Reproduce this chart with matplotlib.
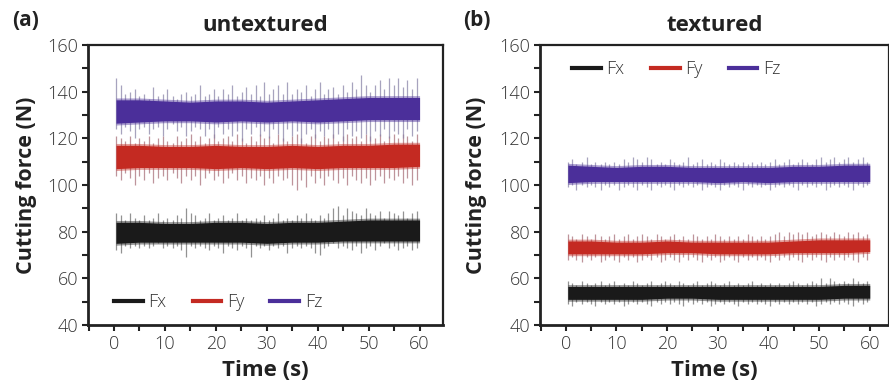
import matplotlib
matplotlib.use("Agg")
import matplotlib.pyplot as plt
from matplotlib.lines import Line2D
from matplotlib.ticker import MultipleLocator

# ---------------- data ----------------
series_names = ["Fx", "Fy", "Fz"]
colors = {"Fx": "#1a1a1a", "Fy": "#c42a22", "Fz": "#4b2f9a"}
spike_colors = {"Fx": "#6e6e6e", "Fy": "#a8707a", "Fz": "#8a84a8"}

# sample times of spikes (s)
t_spk = [0.4, 1.3, 2.1, 3.2, 4.1, 5.0, 5.8, 6.9, 7.7, 8.6, 9.6, 10.4, 11.5, 12.3, 13.2,
         14.1, 15.1, 16.0, 16.8, 17.9, 18.7, 19.6, 20.5, 21.4, 22.4, 23.2, 24.1, 25.1,
         25.9, 26.9, 27.8, 28.6, 29.5, 30.5, 31.3, 32.2, 33.2, 34.0, 35.0, 35.9, 36.7,
         37.7, 38.6, 39.4, 40.4, 41.3, 42.1, 43.1, 44.0, 44.9, 45.8, 46.7, 47.6, 48.5,
         49.4, 50.3, 51.3, 52.2, 53.0, 54.0, 54.9, 55.8, 56.7, 57.6, 58.6, 59.5]

# band envelope times (s)
t_band = [0.4, 5, 10, 15, 20, 25, 30, 35, 40, 45, 50, 55, 60]

# ---- (a) untextured ----
a_band_hi = {
    "Fz": [136.5, 136.5, 136, 135.5, 136, 136, 135.5, 136, 136.5, 137, 137.5, 137.5, 137.5],
    "Fy": [117, 117, 116.5, 116.5, 117, 116.5, 116.5, 117, 116.5, 117, 117, 117.5, 117.5],
    "Fx": [84, 84, 83.5, 83.5, 84, 84, 83.5, 84, 84, 84.5, 85, 85, 85],
}
a_band_lo = {
    "Fz": [126.5, 127, 127.5, 127.5, 127, 127.5, 127, 127.5, 127, 127.5, 128, 128, 128],
    "Fy": [107, 107.5, 107.5, 107.5, 107, 107.5, 107, 107.5, 107, 107.5, 107.5, 107.5, 108],
    "Fx": [75, 75.5, 75.5, 75.5, 75.5, 75.5, 75, 75.5, 75.5, 76, 76, 76, 76],
}
a_spk_hi = {
    "Fz": [146, 143, 139, 140, 141, 138, 139, 137, 142, 138, 139, 141, 138, 137, 139, 140,
           138, 139, 143, 138, 139, 141, 138, 141, 139, 143, 138, 140, 142, 139, 143, 138,
           144, 139, 141, 143, 139, 144, 139, 141, 140, 143, 138, 141, 144, 139, 141, 142,
           139, 143, 140, 144, 141, 147, 143, 140, 143, 145, 141, 146, 143, 146, 142, 145,
           141, 146],
    "Fy": [121, 120, 119, 121, 118, 120, 119, 121, 118, 120, 121, 119, 118, 121, 119, 120,
           122, 119, 121, 118, 120, 122, 119, 120, 121, 119, 122, 120, 118, 121, 119, 122,
           120, 121, 118, 122, 120, 119, 121, 122, 120, 118, 121, 122, 119, 121, 120, 122,
           119, 121, 122, 120, 121, 119, 122, 121, 120, 122, 119, 121, 122, 120, 122, 121,
           119, 122],
    "Fx": [88, 87, 85, 88, 86, 85, 87, 85, 86, 88, 85, 86, 85, 87, 86, 90, 88, 87, 85, 86,
           88, 85, 86, 87, 85, 86, 88, 85, 86, 85, 86, 85, 87, 85, 86, 88, 85, 86, 85, 87,
           86, 88, 86, 85, 87, 86, 88, 90, 91, 87, 90, 89, 88, 87, 90, 88, 87, 89, 86, 89,
           88, 87, 89, 86, 88, 89],
}
a_spk_lo = {
    "Fz": [124, 122, 125, 123, 120, 124, 125, 122, 124, 125, 121, 124, 126, 123, 125, 121,
           123, 125, 124, 121, 124, 120, 125, 122, 124, 121, 123, 119, 124, 122, 125, 121,
           123, 120, 124, 122, 119, 124, 121, 123, 118, 122, 124, 120, 123, 121, 124, 120,
           122, 119, 124, 121, 123, 120, 122, 119, 123, 121, 124, 120, 123, 122, 120, 124,
           121, 123],
    "Fy": [104, 102, 105, 103, 100, 104, 102, 105, 101, 103, 104, 102, 105, 103, 101, 104,
           102, 104, 100, 103, 105, 102, 104, 101, 103, 105, 102, 104, 101, 103, 102, 104,
           100, 103, 101, 104, 102, 103, 100, 98, 102, 99, 104, 101, 103, 100, 104, 102,
           101, 103, 100, 104, 102, 101, 103, 100, 102, 104, 101, 103, 102, 104, 101, 103,
           100, 102],
    "Fx": [72, 71, 74, 73, 74, 73, 74, 73, 74, 75, 73, 74, 73, 74, 72, 69, 74, 73, 74, 73,
           72, 74, 73, 71, 74, 73, 72, 74, 73, 69, 74, 73, 74, 72, 74, 73, 74, 71, 73, 74,
           73, 74, 73, 71, 70, 73, 74, 75, 73, 74, 73, 72, 74, 71, 73, 74, 72, 74, 75, 73,
           74, 72, 73, 74, 72, 73],
}

# ---- (b) textured ----
b_band_hi = {
    "Fz": [108.5, 108, 107.5, 108, 108, 107.5, 107.5, 107.5, 107.5, 108, 108, 108.5, 108.5],
    "Fy": [76, 76, 75.5, 75.5, 76, 75.5, 75.5, 75.5, 75.5, 76, 76.5, 76.5, 76.5],
    "Fx": [56.5, 56.5, 56.5, 56.5, 56.5, 56.5, 56.5, 56.5, 56.5, 56.5, 56.5, 57, 57],
}
b_band_lo = {
    "Fz": [101, 101.5, 101.5, 101.5, 101.5, 101.5, 101, 101.5, 101, 101.5, 101.5, 101.5, 101.5],
    "Fy": [70.5, 70.5, 70.5, 70.5, 71, 71, 70.5, 70.5, 70.5, 71, 71, 71, 71.5],
    "Fx": [51, 51, 51, 51, 51.5, 51.5, 51, 51, 51, 51, 51, 51.5, 51.5],
}
b_spk_hi = {
    "Fz": [110, 111, 109, 110, 112, 109, 110, 109, 110, 109, 110, 109, 111, 110, 112, 111,
           110, 112, 111, 109, 110, 109, 111, 110, 109, 110, 112, 109, 110, 111, 109, 110,
           109, 111, 110, 109, 110, 109, 110, 109, 110, 109, 110, 109, 110, 111, 109, 110,
           111, 109, 110, 111, 110, 109, 111, 112, 110, 111, 112, 110, 111, 112, 110, 111,
           112, 110],
    "Fy": [79, 78, 77, 79, 78, 77, 79, 78, 77, 78, 79, 77, 78, 79, 77, 78, 79, 78, 77, 79,
           78, 77, 78, 79, 77, 78, 77, 79, 78, 77, 78, 77, 79, 78, 77, 78, 77, 78, 77, 79,
           78, 77, 78, 77, 78, 79, 80, 78, 80, 79, 80, 79, 80, 78, 79, 80, 79, 78, 80, 79,
           78, 80, 79, 80, 78, 79],
    "Fx": [59, 58, 57, 59, 58, 57, 58, 59, 57, 58, 59, 57, 58, 57, 59, 58, 57, 58, 59, 57,
           58, 59, 58, 57, 59, 58, 57, 58, 59, 57, 58, 59, 58, 57, 58, 59, 57, 58, 57, 58,
           59, 57, 58, 57, 58, 57, 58, 57, 58, 59, 58, 57, 58, 59, 58, 60, 58, 60, 59, 58,
           59, 58, 60, 59, 58, 59],
}
b_spk_lo = {
    "Fz": [99, 100, 98, 100, 99, 100, 99, 98, 100, 99, 100, 98, 99, 100, 99, 98, 100, 99,
           98, 100, 99, 100, 99, 98, 100, 99, 100, 99, 100, 98, 99, 100, 99, 98, 100, 99,
           100, 99, 98, 100, 99, 100, 99, 100, 98, 99, 100, 99, 100, 99, 98, 100, 99, 100,
           99, 100, 98, 99, 100, 99, 100, 99, 98, 100, 99, 100],
    "Fy": [68, 69, 68, 67, 69, 68, 69, 67, 68, 69, 68, 67, 69, 68, 69, 67, 68, 69, 68, 69,
           67, 68, 69, 68, 67, 69, 68, 69, 68, 67, 69, 68, 69, 67, 68, 69, 68, 67, 69, 68,
           69, 68, 69, 68, 67, 69, 68, 69, 68, 69, 68, 67, 69, 68, 69, 68, 67, 69, 68, 69,
           68, 69, 68, 67, 69, 68],
    "Fx": [49, 48, 50, 49, 50, 49, 48, 50, 49, 50, 49, 50, 48, 49, 50, 49, 50, 49, 48, 50,
           49, 50, 49, 50, 49, 48, 50, 49, 50, 49, 50, 48, 49, 50, 49, 50, 49, 48, 50, 49,
           50, 49, 50, 49, 48, 50, 49, 50, 49, 50, 49, 50, 49, 50, 48, 49, 50, 49, 50, 49,
           50, 49, 48, 50, 49, 50],
}

x_ticks = [0, 10, 20, 30, 40, 50, 60]
y_ticks = [40, 60, 80, 100, 120, 140, 160]
panel_labels = ["(a)", "(b)"]
panel_titles = ["untextured", "textured"]

# ---------------- styling ----------------
plt.rcParams["font.family"] = ["Open Sans", "DejaVu Sans"]
LIGHT = dict(family=["Open Sans", "DejaVu Sans"], weight="light", size=13)
BOLD_SIZE = 16

fig = plt.figure(figsize=(8.89, 3.85), dpi=100)
ax_a = fig.add_axes([88 / 889, 60 / 385, 355 / 889, 280 / 385])
ax_b = fig.add_axes([540 / 889, 60 / 385, 349 / 889, 280 / 385])


def draw_panel(ax, band_hi, band_lo, spk_hi, spk_lo, xlim):
    for name in series_names:
        ax.vlines(t_spk, spk_lo[name], spk_hi[name], color=spike_colors[name],
                  lw=0.9, alpha=0.75, zorder=2)
    for name in series_names:
        ax.fill_between(t_band, [v + 0.8 for v in band_hi[name]],
                        [v - 0.8 for v in band_lo[name]],
                        color=colors[name], alpha=0.45, lw=0, zorder=3)
        ax.fill_between(t_band, band_hi[name], band_lo[name],
                        color=colors[name], lw=0, zorder=4)
    ax.set_xlim(*xlim)
    ax.set_ylim(40, 160)
    ax.set_xticks(x_ticks)
    ax.set_yticks(y_ticks)
    ax.xaxis.set_minor_locator(MultipleLocator(5))
    ax.yaxis.set_minor_locator(MultipleLocator(10))
    ax.tick_params(which="both", direction="out", length=4, width=1.5, color="#222222")
    ax.tick_params(which="major", pad=3)
    for lab in ax.get_xticklabels() + ax.get_yticklabels():
        lab.set_fontproperties(LIGHT)
        lab.set_color("#333333")
    for side in ["left", "bottom"]:
        ax.spines[side].set_linewidth(2.0)
        ax.spines[side].set_color("#222222")
    for side in ["top", "right"]:
        ax.spines[side].set_linewidth(1.6)
        ax.spines[side].set_color("#222222")
    ax.set_xlabel("Time (s)", fontsize=BOLD_SIZE, fontweight="bold", color="#222222")
    ax.set_ylabel("Cutting force (N)", fontsize=BOLD_SIZE - 0.5, fontweight="bold",
                  color="#222222")


draw_panel(ax_a, a_band_hi, a_band_lo, a_spk_hi, a_spk_lo, (-5.1, 64.6))
draw_panel(ax_b, b_band_hi, b_band_lo, b_spk_hi, b_spk_lo, (-5.1, 63.8))
ax_a.yaxis.set_label_coords(-0.144, 0.5)
ax_b.yaxis.set_label_coords(-0.152, 0.5)
ax_a.xaxis.set_label_coords(0.5, -0.125)
ax_b.xaxis.set_label_coords(0.5, -0.125)

handles = [Line2D([0], [0], color=colors[n], lw=3) for n in series_names]
leg_kw = dict(ncol=3, frameon=False, handlelength=1.6, handletextpad=0.3,
              columnspacing=1.45, borderpad=0, borderaxespad=0, prop=LIGHT)
leg_a = ax_a.legend(handles, series_names, loc="lower left",
                    bbox_to_anchor=(0.073, 0.05), **leg_kw)
leg_b = ax_b.legend(handles, series_names, loc="upper left",
                    bbox_to_anchor=(0.092, 0.945), **leg_kw)
for leg in (leg_a, leg_b):
    for txt in leg.get_texts():
        txt.set_color("#333333")

# panel labels and titles
fig.text(12 / 889, 0.948, panel_labels[0], fontsize=15, fontweight="bold",
         ha="left", va="center", color="#222222")
fig.text(463 / 889, 0.948, panel_labels[1], fontsize=15, fontweight="bold",
         ha="left", va="center", color="#222222")
ax_a.set_title(panel_titles[0], fontsize=BOLD_SIZE, fontweight="bold", pad=10,
               color="#222222")
ax_b.set_title(panel_titles[1], fontsize=BOLD_SIZE, fontweight="bold", pad=10,
               color="#222222")

fig.savefig("out.png", dpi=100)
